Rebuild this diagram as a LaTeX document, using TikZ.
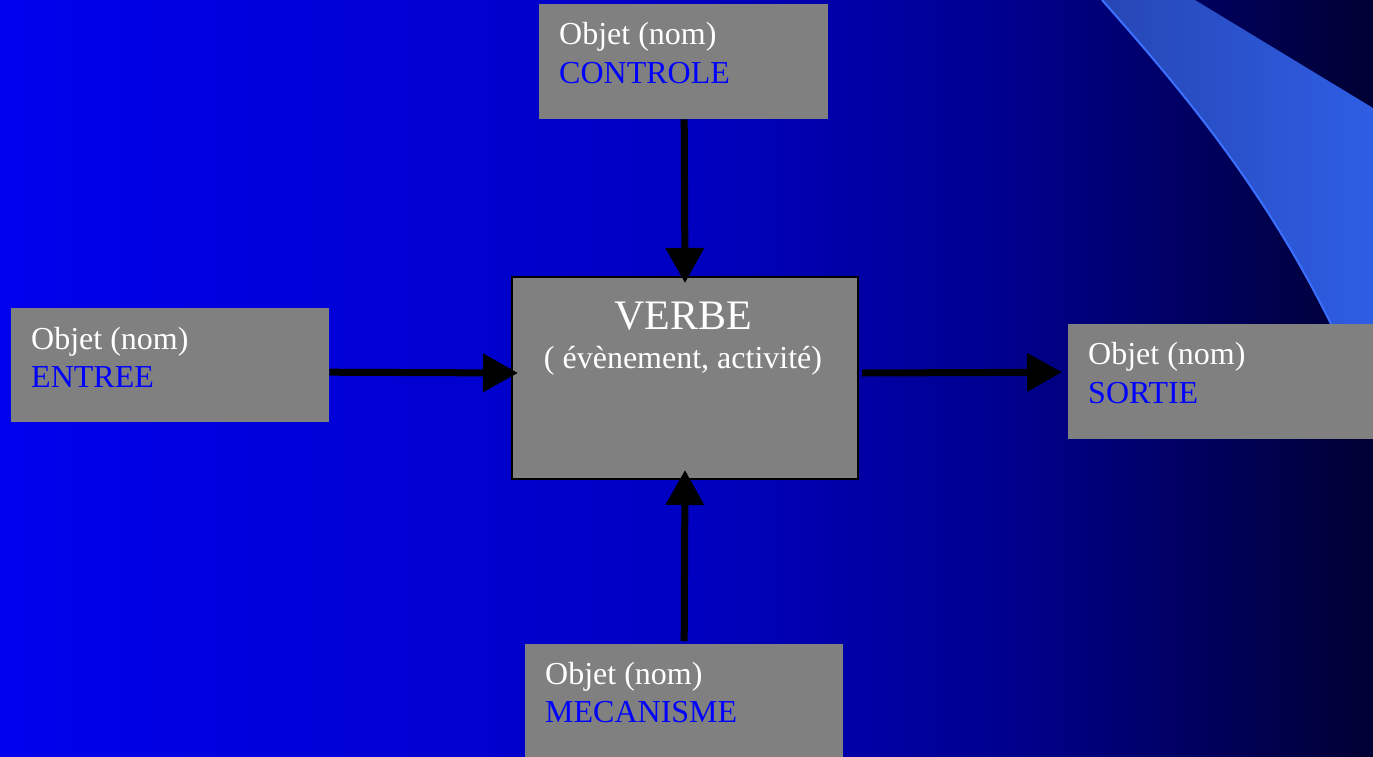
\documentclass[tikz,border=0pt]{standalone}
\usepackage{fontspec}
\setmainfont{Liberation Serif}
\usetikzlibrary{arrows.meta}
\definecolor{boxgray}{RGB}{128,128,128}
\definecolor{txtblue}{RGB}{0,0,255}
\definecolor{bandL}{RGB}{38,70,180}
\definecolor{bandR}{RGB}{46,94,228}
\definecolor{bandEdge}{RGB}{60,112,255}
\pgfdeclarehorizontalshading{bgshade}{100bp}{rgb(0bp)=(0,0,0.93); rgb(25bp)=(0,0,0.93); rgb(50bp)=(0,0,0.76); rgb(62bp)=(0,0,0.55); rgb(75bp)=(0,0,0.2); rgb(100bp)=(0,0,0.2)}
\tikzset{
  objbox/.style={draw=none,fill=boxgray,rectangle,inner sep=0pt,anchor=north west},
  verbbox/.style={draw=black,line width=2pt,fill=boxgray,rectangle,inner sep=0pt,anchor=north west},
  objtxt/.style={anchor=base west,inner sep=0pt,text=white,font=\fontsize{32pt}{38pt}\selectfont},
  roletxt/.style={anchor=base west,inner sep=0pt,text=txtblue,font=\fontsize{32pt}{38pt}\selectfont},
  arr/.style={line width=7pt,-{Triangle[width=37pt,length=35pt]},draw=black}
}
\begin{document}
\begin{tikzpicture}[x=1pt,y=-1pt]
\useasboundingbox (0,0) rectangle (1373,756);
\clip (0,0) rectangle (1373,756);
\shade[shading=bgshade] (0,0) rectangle (1373,756);
% swoosh
\shade[left color=bandL,right color=bandR] (1102,0) .. controls (1195,105) and (1300,230) .. (1373,420) -- (1373,108) -- (1195,0) -- cycle;
\draw[bandEdge,line width=2pt] (1102,0) .. controls (1195,105) and (1300,230) .. (1373,420);
% boxes
\node[objbox,minimum width=289pt,minimum height=115pt] (ctrl) at (539,4) {};
\node[objbox,minimum width=318pt,minimum height=114pt] (entree) at (11,308) {};
\node[objbox,minimum width=320pt,minimum height=115pt] (sortie) at (1068,324) {};
\node[objbox,minimum width=318pt,minimum height=130pt] (meca) at (525,644) {};
\node[verbbox,minimum width=346pt,minimum height=202pt] (verbe) at (511,276) {};
% texts
\node[objtxt] (t1) at (559,44) {Objet (nom)};
\node[roletxt] (r1) at (559,83) {CONTROLE};
\node[objtxt] (t2) at (31,349) {Objet (nom)};
\node[roletxt] (r2) at (31,387) {ENTREE};
\node[objtxt] (t3) at (1088,364) {Objet (nom)};
\node[roletxt] (r3) at (1088,403) {SORTIE};
\node[objtxt] (t4) at (545,684) {Objet (nom)};
\node[roletxt] (r4) at (545,722) {MECANISME};
\node[anchor=base,inner sep=0pt,text=white,font=\fontsize{42pt}{48pt}\selectfont] (vt) at (683,329) {VERBE};
\node[anchor=base,inner sep=0pt,text=white,font=\fontsize{32pt}{38pt}\selectfont] (vs) at (683,368) {( évènement, activité)};
% arrows
\draw[arr] ([xshift=0.5pt]ctrl.south) -- ([yshift=-7pt]verbe.north);
\draw[arr] ([yshift=-7pt]entree.east) -- ([xshift=7pt,yshift=5pt]verbe.west);
\draw[arr] ([xshift=3pt,yshift=5pt]verbe.east) -- ([xshift=-6pt,yshift=9.5pt]sortie.west);
\draw[arr] ([yshift=3pt]meca.north) -- ([yshift=10pt]verbe.south);
\end{tikzpicture}
\end{document}
